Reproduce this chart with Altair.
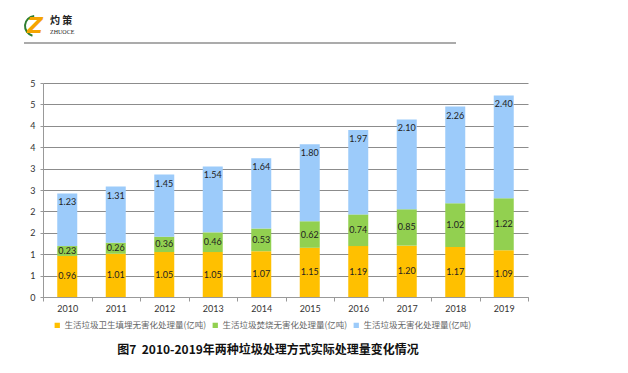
import altair as alt
import pandas as pd

years = ["2010", "2011", "2012", "2013", "2014", "2015", "2016", "2017", "2018", "2019"]
landfill = [0.96, 1.01, 1.05, 1.05, 1.07, 1.15, 1.19, 1.20, 1.17, 1.09]
incineration = [0.23, 0.26, 0.36, 0.46, 0.53, 0.62, 0.74, 0.85, 1.02, 1.22]
total = [1.23, 1.31, 1.45, 1.54, 1.64, 1.80, 1.97, 2.10, 2.26, 2.40]
series = ["生活垃圾卫生填埋无害化处理量(亿吨)", "生活垃圾焚烧无害化处理量(亿吨)", "生活垃圾无害化处理量(亿吨)"]
colors = ["#FFC000", "#92D050", "#9CCBFA"]
y_ticks = [0, 0.5, 1, 1.5, 2, 2.5, 3, 3.5, 4, 4.5, 5]
caption = "图7\u00a0\u00a02010-2019年两种垃圾处理方式实际处理量变化情况"

rows = []
for i, yr in enumerate(years):
    base = 0.0
    for k, vals in enumerate([landfill, incineration, total]):
        v = vals[i]
        rows.append({"year": yr, "series": series[k], "order": k, "v": v,
                     "base": base, "top": base + v, "mid": base + v / 2,
                     "label": f"{v:.2f}"})
        base += v
df = pd.DataFrame(rows)

W, H = 485, 214

xaxis = alt.Axis(labelAngle=0, labelFontSize=9, labelColor="#333333",
                 labelFont="Lato", labelPadding=3, tickBand="extent",
                 tickSize=4, tickColor="#999999", domainColor="#999999",
                 grid=False, title=None)
yaxis = alt.Axis(values=y_ticks, labelExpr="toString(round(datum.value))",
                 labelFontSize=9, labelColor="#333333", title=None,
                 labelFont="Lato", tickSize=3, tickColor="#999999",
                 domainColor="#999999", gridColor="#8c8c8c", gridWidth=1,
                 labelPadding=5, labelOverlap=False, tickCount=11)
xscale = alt.Scale(paddingInner=0, paddingOuter=0)
yscale = alt.Scale(domain=[0, 5], nice=False)

def X():
    return alt.X("year:N", sort=years, scale=xscale, axis=xaxis)

bars = alt.Chart(df).mark_bar(width=20).encode(
    x=X(),
    y=alt.Y("base:Q", scale=yscale, axis=yaxis),
    y2="top:Q",
    color=alt.Color("series:N", sort=series,
                    scale=alt.Scale(domain=series, range=colors),
                    legend=alt.Legend(title=None, orient="none", legendX=10, legendY=238,
                                      direction="horizontal", symbolType="square",
                                      symbolSize=28, symbolStrokeWidth=0,
                                      labelFontSize=8.5, labelColor="#666666",
                                      labelFont="Noto Sans CJK SC", columnPadding=4,
                                      labelOffset=3)),
    order="order:Q",
)

lower = alt.Chart(df).transform_filter("datum.order < 2").mark_text(
    fontSize=9, font="Lato", color="#222222", baseline="middle").encode(
    x=X(), y=alt.Y("mid:Q", scale=yscale, axis=yaxis), text="label:N")

upper = alt.Chart(df).transform_filter("datum.order == 2").mark_text(
    fontSize=9, font="Lato", color="#222222", baseline="middle", dy=9).encode(
    x=X(), y=alt.Y("top:Q", scale=yscale, axis=yaxis), text="label:N")

title_df = pd.DataFrame({"t": [caption]})
title = alt.Chart(title_df).mark_text(fontSize=12, fontWeight="bold", font="Noto Sans CJK SC",
                                      color="#111111", align="center", baseline="middle").encode(
    x=alt.value(225), y=alt.value(267), text="t:N")

hdr_line = alt.Chart(title_df).mark_rule(color="#8f8f8f", strokeWidth=1.5).encode(
    x=alt.value(-19), x2=alt.value(413), y=alt.value(-40))

logo_df = pd.DataFrame({"t": ["灼 策"], "s": ["ZHUOCE"], "z": ["Z"]})
logo_z = alt.Chart(logo_df).mark_text(fontSize=22, fontWeight="bold", font="DejaVu Sans",
                                      color="#F5A400", fontStyle="italic", align="center",
                                      baseline="middle").encode(
    x=alt.value(-8), y=alt.value(-57), text="z:N")
logo_ring = alt.Chart(logo_df).mark_arc(color="#2E7D32", innerRadius=9, outerRadius=11,
                                        theta=3.4, theta2=6.2).encode(
    x=alt.value(-8), y=alt.value(-57))
logo_cn = alt.Chart(logo_df).mark_text(fontSize=10, fontWeight="bold", font="Noto Sans CJK SC",
                                       color="#222222", align="left", baseline="middle").encode(
    x=alt.value(7), y=alt.value(-62), text="t:N")
logo_en = alt.Chart(logo_df).mark_text(fontSize=6, font="Liberation Sans Narrow",
                                       color="#222222", align="left", baseline="middle").encode(
    x=alt.value(7), y=alt.value(-51), text="s:N")

chart = alt.layer(bars, lower, upper, title, hdr_line, logo_ring, logo_z, logo_cn, logo_en).properties(
    width=W, height=H,
    autosize=alt.AutoSizeParams(type="none"),
    padding={"left": 35, "top": 75, "right": 90, "bottom": 66},
    background="white",
).configure_view(stroke=None)

chart.save("out.html", embed_options={"renderer": "svg", "actions": False})
